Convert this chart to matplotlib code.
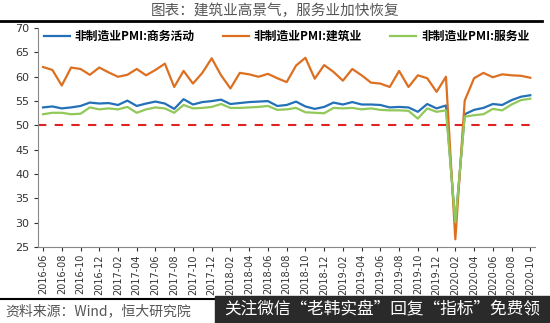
import matplotlib
matplotlib.use("Agg")
import matplotlib.pyplot as plt
import pandas as pd
from matplotlib.patches import Rectangle

plt.rcParams['font.family'] = ['Noto Sans CJK SC', 'DejaVu Sans']

months = [p.strftime('%Y-%m') for p in pd.period_range('2016-06', '2020-10', freq='M')]

business = [53.7, 53.9, 53.5, 53.7, 54.0, 54.7, 54.5,
            54.6, 54.2, 55.1, 54.0, 54.5, 54.9, 54.5, 53.4, 55.4, 54.3, 54.8, 55.0,
            55.3, 54.4, 54.6, 54.8, 54.9, 55.0, 54.0, 54.2, 54.9, 53.9, 53.4, 53.8,
            54.7, 54.3, 54.8, 54.3, 54.3, 54.2, 53.7, 53.8, 53.7, 52.8, 54.4, 53.5,
            54.1, 29.6, 52.3, 53.2, 53.6, 54.4, 54.2, 55.2, 55.9, 56.2]

construction = [62.0, 61.4, 58.2, 61.9, 61.6, 60.4, 61.9,
                60.9, 60.0, 60.4, 61.6, 60.3, 61.4, 62.7, 57.9, 61.2, 58.6, 60.8, 63.8,
                60.3, 57.6, 60.8, 60.5, 60.0, 60.6, 59.7, 58.9, 62.3, 63.9, 59.6, 62.4,
                61.0, 59.2, 61.6, 60.3, 58.8, 58.6, 57.9, 61.2, 57.9, 60.3, 59.7, 56.9,
                60.0, 26.6, 55.1, 59.7, 60.8, 59.9, 60.5, 60.3, 60.2, 59.8]

services = [52.3, 52.6, 52.6, 52.3, 52.4, 53.7, 53.3,
            53.5, 53.3, 53.8, 52.6, 53.3, 53.7, 53.5, 52.6, 54.2, 53.5, 53.6, 53.8,
            54.4, 53.6, 53.6, 53.7, 53.8, 54.0, 53.2, 53.3, 53.6, 52.7, 52.6, 52.5,
            53.6, 53.5, 53.6, 53.3, 53.5, 53.2, 53.1, 53.1, 53.0, 51.4, 53.5, 52.8,
            53.1, 30.1, 51.8, 52.1, 52.3, 53.4, 53.1, 54.3, 55.2, 55.5]

series_names = ['非制造业PMI:商务活动', '非制造业PMI:建筑业', '非制造业PMI:服务业']
threshold = 50

fig = plt.figure(figsize=(5.5, 3.23), dpi=100)
ax = fig.add_axes([0.0697, 0.235, 0.903, 0.678])

x = list(range(len(months)))
ax.plot(x, business, color='#2470B8', lw=1.6, label=series_names[0], zorder=3)
ax.plot(x, construction, color='#DC7020', lw=1.6, label=series_names[1], zorder=3)
ax.plot(x, services, color='#92C85A', lw=1.6, label=series_names[2], zorder=4)
ax.axhline(threshold, color='#E02424', lw=1.5, ls=(0, (4, 4)), zorder=2)

ax.set_xlim(-0.5, len(months) - 0.5)
ax.set_ylim(25, 70)
ax.set_yticks(range(25, 71, 5))
ax.set_xticks(x[::2])
ax.set_xticklabels(months[::2], rotation=90, fontsize=7, color='#333333',
                   family=['DejaVu Sans'])
ax.tick_params(axis='y', labelsize=8, colors='#333333', length=3, width=0.8)
ax.tick_params(axis='x', length=3, width=0.8, colors='#333333', pad=2)
for lab in ax.get_yticklabels():
    lab.set_family(['DejaVu Sans'])
for s in ['top', 'right']:
    ax.spines[s].set_visible(False)
for s in ['left', 'bottom']:
    ax.spines[s].set_color('#888888')
    ax.spines[s].set_linewidth(0.8)

leg = ax.legend(loc='upper center', bbox_to_anchor=(0.5, 1.04), ncol=3, frameon=False,
                handlelength=2.2, columnspacing=2.4, handletextpad=0.4,
                prop={'weight': 'bold', 'size': 8.5})

# title
fig.text(0.5, 0.965, '图表：建筑业高景气，服务业加快恢复', ha='center', va='center',
         fontsize=10.5, color='#555555')
fig.add_artist(plt.Line2D([0.0, 0.985], [0.935, 0.935], color='black', lw=2,
                          transform=fig.transFigure))
# footer
fig.add_artist(plt.Line2D([0.0, 0.985], [0.075, 0.075], color='black', lw=1.5,
                          transform=fig.transFigure))
fig.text(0.01, 0.035, '资料来源：Wind，恒大研究院', ha='left', va='center',
         fontsize=10, color='#555555', style='italic')
fig.add_artist(Rectangle((0.39, 0.0), 0.61, 0.085, transform=fig.transFigure,
                         color='#2a2a2a', zorder=5))
fig.text(0.695, 0.042, '关注微信“老韩实盘”回复“指标”免费领', ha='center', va='center',
         fontsize=12, color='white', zorder=6)

fig.savefig('out.png', dpi=100)
